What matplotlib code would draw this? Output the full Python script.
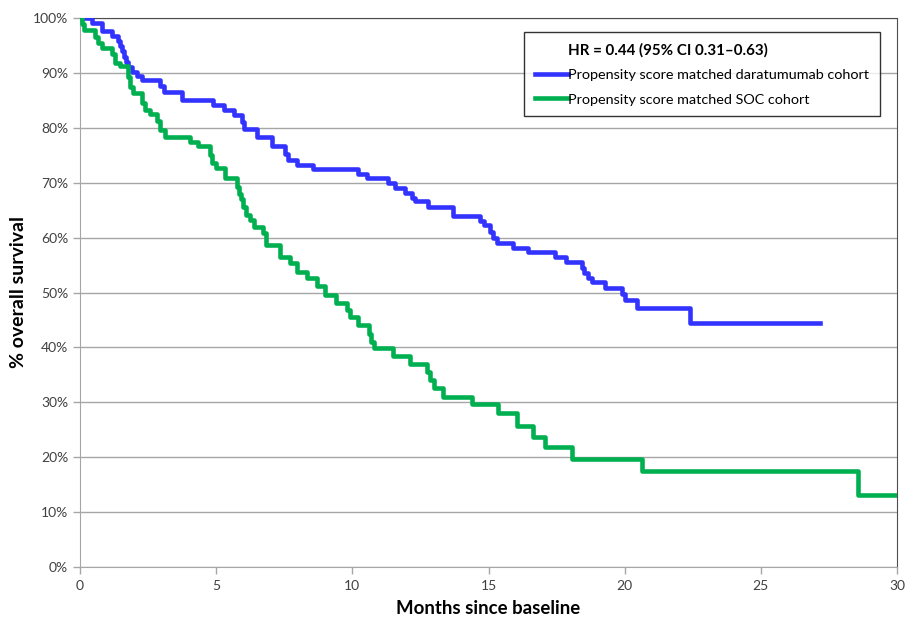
import matplotlib
matplotlib.use("Agg")
import matplotlib.pyplot as plt
from matplotlib.lines import Line2D
from matplotlib.ticker import PercentFormatter

# Kaplan-Meier step estimates (months, % surviving)
dara_t = [0, 0.43, 0.82, 1.16, 1.38, 1.46, 1.54, 1.62, 1.70, 1.78, 1.90, 2.08, 2.27,
          2.94, 3.08, 3.73, 4.90, 5.30, 5.65, 5.95, 6.02, 6.49, 7.04, 7.53, 7.62,
          7.96, 8.57, 10.22, 10.53, 11.30, 11.57, 11.94, 12.20, 12.30, 12.79, 13.71,
          14.69, 14.85, 15.06, 15.15, 15.30, 15.91, 16.46, 17.44, 17.85, 18.42,
          18.52, 18.65, 18.79, 19.28, 19.89, 20.00, 20.44, 22.40, 27.18]
dara_s = [100, 99.1, 97.6, 96.7, 95.8, 94.9, 93.9, 92.9, 92.0, 91.1, 90.2, 89.4, 88.7,
          87.7, 86.6, 85.1, 84.1, 83.2, 82.4, 81.0, 79.8, 78.3, 76.7, 75.2, 74.1,
          73.2, 72.5, 71.6, 70.8, 69.9, 69.0, 68.1, 67.3, 66.6, 65.6, 64.0,
          63.1, 62.3, 61.0, 60.0, 59.0, 58.1, 57.3, 56.4, 55.6, 54.5,
          53.5, 52.6, 52.0, 50.9, 49.8, 48.7, 47.2, 44.4, 44.4]

soc_t = [0, 0.06, 0.15, 0.55, 0.65, 0.80, 1.16, 1.30, 1.47, 1.78, 1.85, 1.95, 2.27,
         2.40, 2.57, 2.82, 2.95, 3.12, 4.04, 4.34, 4.77, 4.85, 5.00, 5.33, 5.75,
         5.85, 5.92, 6.00, 6.10, 6.25, 6.40, 6.72, 6.82, 7.35, 7.72, 7.98, 8.35,
         8.72, 9.00, 9.40, 9.82, 9.90, 10.22, 10.60, 10.70, 10.80, 11.50, 12.10,
         12.75, 12.85, 13.00, 13.34, 14.38, 15.36, 16.04, 16.65, 17.08, 18.06,
         20.63, 28.58, 30.0]
soc_s = [100, 98.9, 97.8, 96.5, 95.4, 94.5, 93.4, 91.8, 91.2, 89.3, 87.5, 86.3, 84.6,
         83.2, 82.6, 81.2, 79.6, 78.4, 77.5, 76.6, 75.0, 73.5, 72.6, 70.8, 69.2,
         68.0, 67.0, 65.6, 64.2, 63.2, 62.0, 60.8, 58.7, 56.5, 55.3, 53.8, 52.6,
         51.1, 49.5, 48.0, 46.8, 45.6, 44.1, 42.5, 41.0, 39.8, 38.4, 37.0,
         35.5, 34.1, 32.6, 31.0, 29.6, 28.0, 25.7, 23.7, 21.9, 19.6,
         17.4, 13.1, 13.1]

x_ticks = [0, 5, 10, 15, 20, 25, 30]
y_ticks = [0, 10, 20, 30, 40, 50, 60, 70, 80, 90, 100]

label_dara = "Propensity score matched daratumumab cohort"
label_soc = "Propensity score matched SOC cohort"
hr_text = "HR = 0.44 (95% CI 0.31\u20130.63)"

blue = "#3333FF"
green = "#00B050"

plt.rcParams["font.family"] = ["Lato", "DejaVu Sans"]

fig = plt.figure(figsize=(9.06, 6.2), dpi=100)
ax = fig.add_axes([80 / 906, 1 - 567 / 620, (897 - 80) / 906, (567 - 18) / 620])

ax.step(dara_t, dara_s, where="post", color=blue, lw=3.3, zorder=3)
ax.step(soc_t, soc_s, where="post", color=green, lw=3.3, zorder=3)

ax.set_xlim(0, 30)
ax.set_ylim(0, 100)
ax.set_xticks(x_ticks)
ax.set_yticks(y_ticks)
ax.yaxis.set_major_formatter(PercentFormatter(decimals=0))
ax.grid(axis="y", color="#A6A6A6", lw=1)
ax.set_axisbelow(True)

for side in ("left", "bottom"):
    ax.spines[side].set_color("#A6A6A6")
for side in ("top", "right"):
    ax.spines[side].set_color("#4D4D4D")
ax.tick_params(axis="both", colors="#A6A6A6", labelcolor="#404040",
               labelsize=10, length=5, width=1)
ax.tick_params(axis="x", pad=4)

ax.set_xlabel("Months since baseline", fontsize=13.4, fontweight="bold",
              labelpad=6)
ax.set_ylabel("% overall survival", fontsize=14, fontweight="bold",
              labelpad=4)

# Legend: hazard-ratio line first (no handle), then the two cohorts
handles = [Line2D([], [], color="none"),
           Line2D([], [], color=blue, lw=3.3),
           Line2D([], [], color=green, lw=3.3)]
labels = [hr_text, label_dara, label_soc]
leg = fig.legend(handles, labels, loc="upper right",
                 bbox_to_anchor=(880 / 906, 1 - 32 / 620),
                 fontsize=10.4, frameon=True, fancybox=False, edgecolor="black",
                 handlelength=2.3, handletextpad=0.0, borderpad=0.75,
                 borderaxespad=0.0, labelspacing=0.83)
leg.get_frame().set_linewidth(1.0)
leg.get_texts()[0].set_fontweight("bold")
leg.get_texts()[0].set_fontsize(10.9)

fig.savefig("out.png", dpi=100)
